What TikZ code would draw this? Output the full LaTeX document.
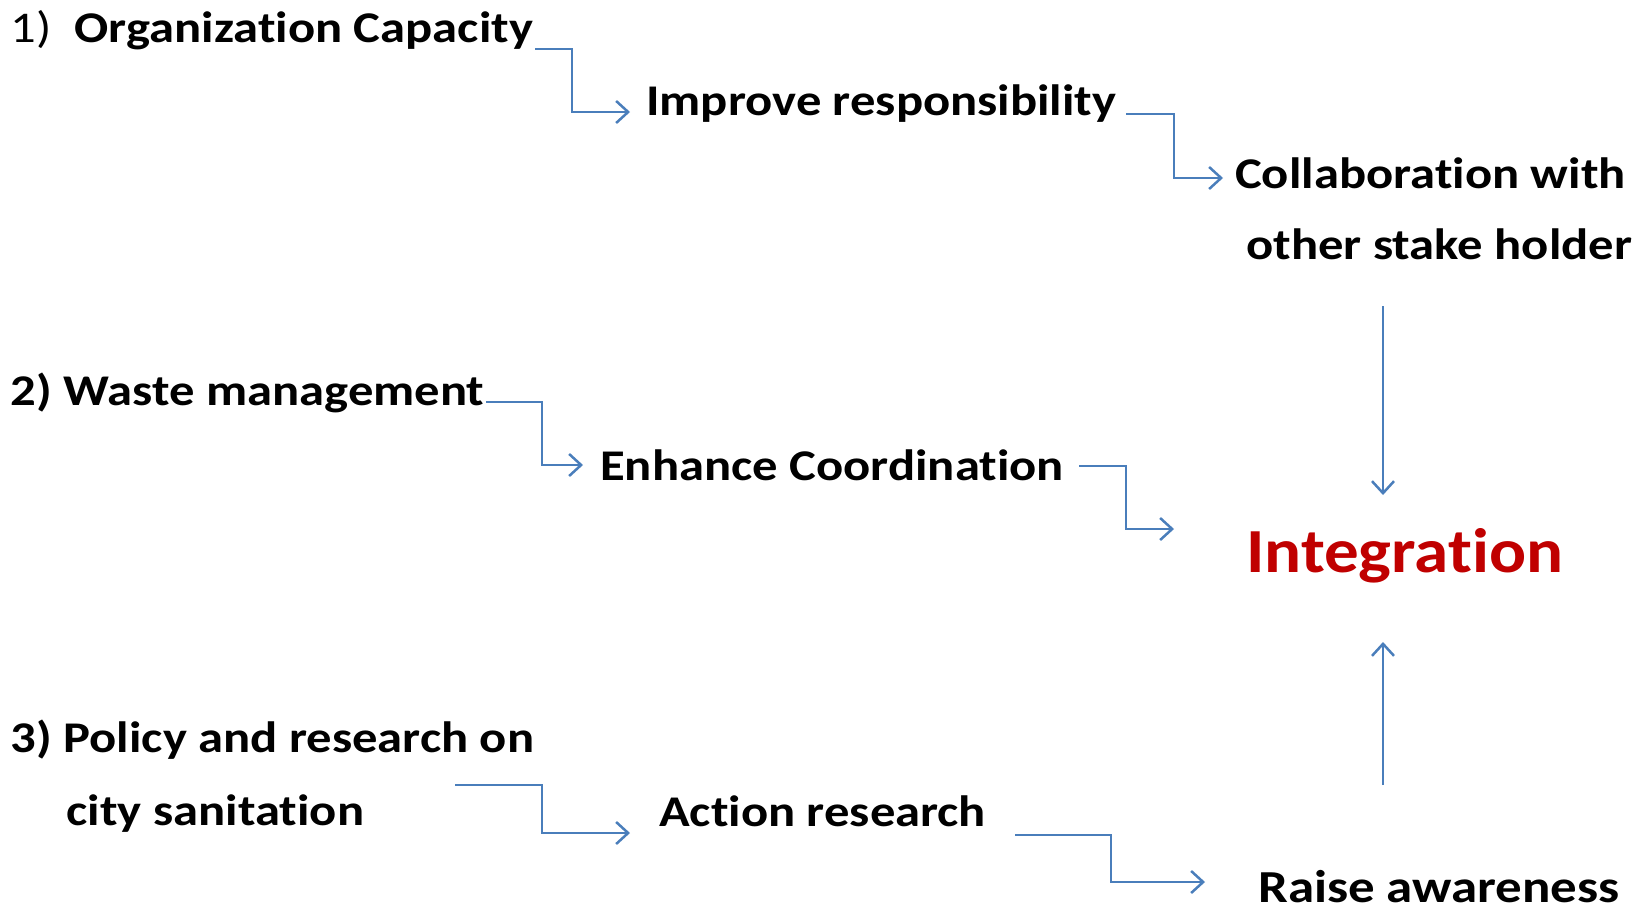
\documentclass[tikz,border=0pt]{standalone}
\usepackage{fontspec}
\setmainfont{Carlito}[Ligatures={NoCommon},FakeStretch=1.155]
\newfontfamily\intfont{Carlito}[Ligatures={NoCommon},FakeStretch=1.10]
\usetikzlibrary{arrows.meta}
\definecolor{connblue}{HTML}{4A7EBB}
\definecolor{intred}{HTML}{C00000}
\tikzset{
  lbl/.style={anchor=west, inner sep=0pt, font=\fontsize{44}{52}\selectfont\bfseries},
  conn/.style={draw=connblue, line width=2.5bp, -{Straight Barb[length=12bp,width=22bp,line width=2.5bp]}},
}
\begin{document}
\begin{tikzpicture}[x=1bp,y=-1bp]
\useasboundingbox (0,0) rectangle (1646,910);
% text nodes
\node[lbl] (org) at (10.5,30) {\mdseries 1)\ \ \bfseries Organization Capacity};
\node[lbl] (imp) at (646,104) {Improve responsibility};
\node[lbl, align=left] (col) at (1235,209) {Collaboration with\\[19bp]\hspace*{11bp}other stake holder};
\node[lbl] (was) at (10.5,393) {2) Waste management};
\node[lbl] (enh) at (600,465) {Enhance Coordination};
\node[anchor=west, inner sep=0pt, text=intred, font=\intfont\fontsize{63}{70}\selectfont\bfseries] (int) at (1246,556) {Integration};
\node[lbl, align=left] (pol) at (10.5,776) {3) Policy and research on\\[21.5bp]\hspace*{56bp}city sanitation};
\node[lbl] (act) at (659,811) {Action research};
\node[lbl, font=\fontsize{46}{54}\selectfont\bfseries] (rai) at (1258,887) {Raise awareness};
% connector points
\coordinate (s1) at (535,49);  \coordinate (m1) at (572,112);  \coordinate (e1) at (630,112);
\coordinate (s2) at (1126,114); \coordinate (m2) at (1174,178); \coordinate (e2) at (1223,178);
\coordinate (s3) at (486,402); \coordinate (m3) at (542,465);  \coordinate (e3) at (583,465);
\coordinate (s4) at (1079,466); \coordinate (m4) at (1126,529); \coordinate (e4) at (1174,529);
\coordinate (s5) at (455,785); \coordinate (m5) at (542,833);  \coordinate (e5) at (630,833);
\coordinate (s6) at (1015,835); \coordinate (m6) at (1111,882); \coordinate (e6) at (1205,882);
\coordinate (t1) at (1383,306); \coordinate (t2) at (1383,495);
\coordinate (b1) at (1383,785); \coordinate (b2) at (1383,642);
\draw[conn] (s1) -| (m1) -- (e1);
\draw[conn] (s2) -| (m2) -- (e2);
\draw[conn] (s3) -| (m3) -- (e3);
\draw[conn] (s4) -| (m4) -- (e4);
\draw[conn] (s5) -| (m5) -- (e5);
\draw[conn] (s6) -| (m6) -- (e6);
\draw[conn] (t1) -- (t2);
\draw[conn] (b1) -- (b2);
\end{tikzpicture}
\end{document}
